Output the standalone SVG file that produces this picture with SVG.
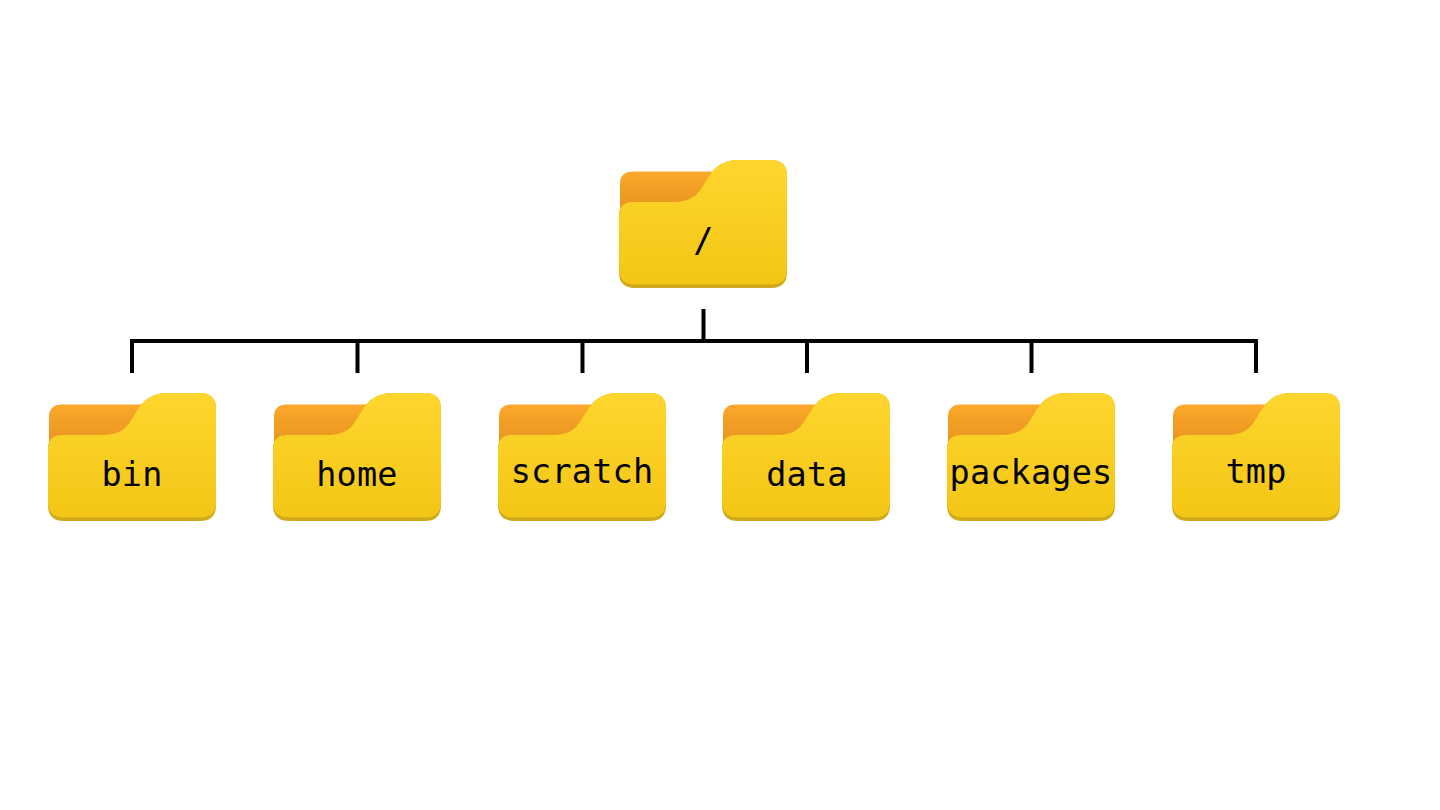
<svg xmlns="http://www.w3.org/2000/svg" xmlns:xlink="http://www.w3.org/1999/xlink" width="1440" height="810" viewBox="0 0 1440 810">
<style>
.l{font-family:"DejaVu Sans Mono","Liberation Mono",monospace;font-size:33.500px;letter-spacing:.2px;fill:#000;text-anchor:middle}
#connectors path{fill:none;stroke:#000;stroke-width:4}
</style>
<defs>
<linearGradient id="back" x1="0" y1="0" x2="0" y2="1"><stop offset="0" stop-color="#fba82b"/><stop offset="1" stop-color="#e58f1b"/></linearGradient>
<linearGradient id="front" x1="0" y1="0" x2="0" y2="1"><stop offset="0" stop-color="#ffd62e"/><stop offset="1" stop-color="#f3c615"/></linearGradient>
<g id="folder">
<path d="M1 60V24Q1 11.500 14 11.500H100V60Z" fill="url(#back)"/>
<path d="M0 56Q0 42 14 42H56C68 42 77 37 82 29L90 16C96 7 104 0 120 0H152Q168 0 168 16V112Q168 128 152 128H16Q0 128 0 112Z" fill="#cfa91b"/>
<path d="M0 56Q0 42 14 42H56C68 42 77 37 82 29L90 16C96 7 104 0 120 0H152Q168 0 168 16V109Q168 124.500 152 124.500H16Q0 124.500 0 109Z" fill="url(#front)"/>
</g>
</defs>
<rect width="1440" height="810" fill="#fff"/>
<g id="connectors">
<path d="M132 373V341H1256V373M357.500 341V373M582.500 341V373M807 341V373M1031.500 341V373M703.500 309V341"/>
</g>
<g id="root"><use href="#folder" x="619" y="160"/><text class="l" x="703.500" y="252">/</text></g>
<g id="bin"><use href="#folder" x="48" y="393"/><text class="l" x="132" y="486">bin</text></g>
<g id="home"><use href="#folder" x="273" y="393"/><text class="l" x="357" y="486">home</text></g>
<g id="scratch"><use href="#folder" x="498" y="393"/><text class="l" x="582" y="483">scratch</text></g>
<g id="data"><use href="#folder" x="722" y="393"/><text class="l" x="807" y="486">data</text></g>
<g id="packages"><use href="#folder" x="947" y="393"/><text class="l" x="1031" y="484">packages</text></g>
<g id="tmp"><use href="#folder" x="1172" y="393"/><text class="l" x="1256" y="483">tmp</text></g>
</svg>
